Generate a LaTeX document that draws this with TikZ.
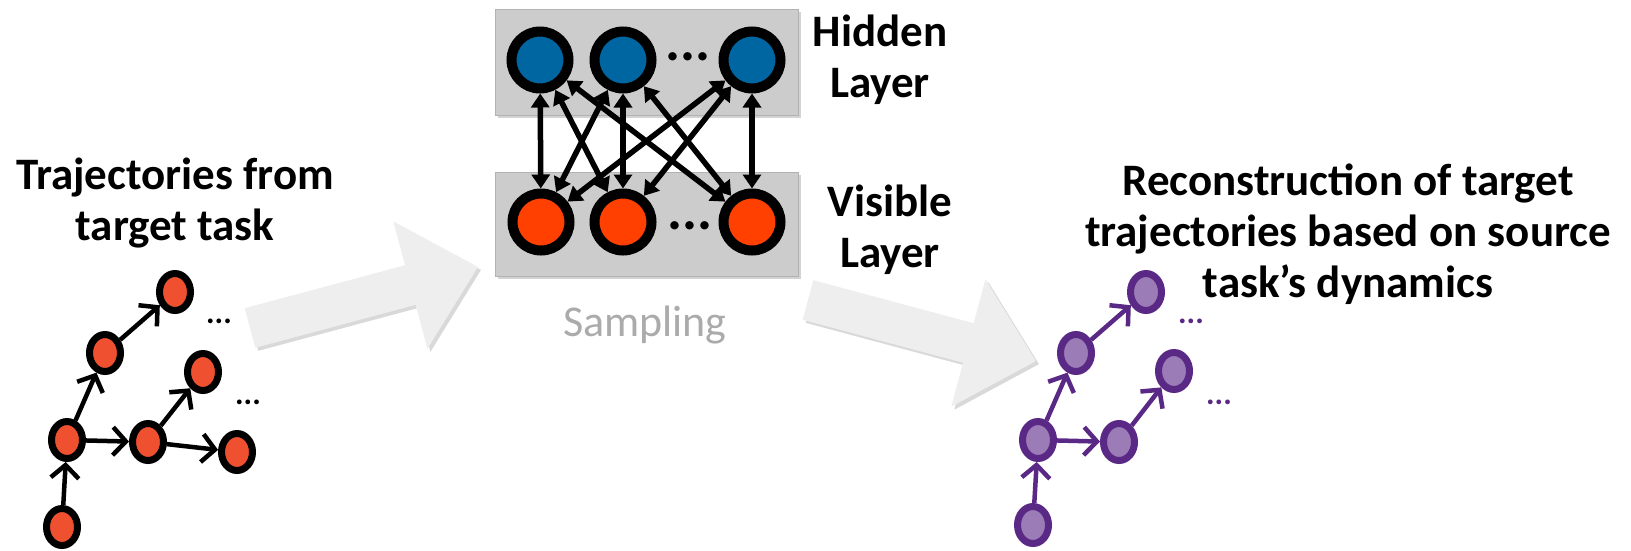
\documentclass[tikz,border=0pt]{standalone}
\usepackage{fontspec}
\setmainfont{Carlito}
\usetikzlibrary{arrows.meta,shapes.geometric,shadows}

\definecolor{hidblue}{HTML}{0066A1}
\definecolor{visred}{HTML}{FF4000}
\definecolor{trajred}{HTML}{EE5030}
\definecolor{recfill}{HTML}{9B7CB6}
\definecolor{recline}{HTML}{5A2885}
\definecolor{boxgray}{HTML}{CCCCCC}
\definecolor{flowgray}{HTML}{EEEEEE}

\tikzset{
  unit/.style={circle, draw=black, line width=10pt, minimum size=57pt, inner sep=0pt},
  hid/.style={unit, fill=hidblue},
  vis/.style={unit, fill=visred},
  link/.style={{Triangle[length=14pt,width=18pt]}-{Triangle[length=14pt,width=18pt]}, line width=5.5pt},
  layerbox/.style={fill=boxgray, draw=black!30, line width=1pt,
    drop shadow={shadow xshift=3pt, shadow yshift=-3pt, opacity=0.35}},
  state/.style={ellipse, draw=black, line width=7pt, fill=trajred,
    minimum width=31pt, minimum height=37pt, inner sep=0pt},
  recstate/.style={state, draw=recline, fill=recfill},
  move/.style={-{Straight Barb[length=13pt,width=28pt]}, line width=4.5pt},
  textblock/.style={font=\fontsize{45}{51}\selectfont\bfseries, align=center},
  flow/.style={fill=flowgray,
    drop shadow={shadow xshift=3pt, shadow yshift=-3pt, opacity=0.3}},
  etc/.style={font=\fontsize{32}{32}\selectfont\bfseries, inner sep=0pt}
}

\begin{document}
\begin{tikzpicture}[x=1pt,y=-1pt]
    \useasboundingbox (0,0) rectangle (1631,550);
    %%%%%%%%%%%%%%%%%%%%%%%%%%%%%%%%%%
    % big arrows
    \fill[flow,shift={(250,328)},rotate=15] (0,-20.5) -- (166,-20.5) -- (166,-66)
        -- (236,0) -- (166,66) -- (166,20.5) -- (0,20.5) -- cycle;
    \fill[flow,shift={(808,300)},rotate=-15] (0,-20.5) -- (166,-20.5) -- (166,-66)
        -- (236,0) -- (166,66) -- (166,20.5) -- (0,20.5) -- cycle;
    %%%%%%%%%%%%%%%%%%%%%%%%%%%%%%%%%%
    % layers
    \draw[layerbox] (495,9) rectangle (798,115); % hidden
    \draw[layerbox] (495,172) rectangle (798,276); % visible
    \node[hid] (h1) at (540,60) {};
    \node[hid] (h2) at (623,60) {};
    \node[hid] (h3) at (752,60) {};
    \node[vis] (v1) at (541,222) {};
    \node[vis] (v2) at (623,222) {};
    \node[vis] (v3) at (752,222) {};
    \node[font=\fontsize{56}{56}\selectfont\bfseries, inner sep=0pt] (hdots) at (688,57) {...};
    \node[font=\fontsize{56}{56}\selectfont\bfseries, inner sep=0pt] (vdots) at (690,226) {...};
    %%%%%%%%%%%%%%%%%%%%%%%%%%%%%%%%%%
    \draw[link] (h1) -- (v1);
    \draw[link] (h1) -- (v2);
    \draw[link] (h1) -- (v3);
    \draw[link] (h2) -- (v1);
    \draw[link] (h2) -- (v2);
    \draw[link] (h2) -- (v3);
    \draw[link] (h3) -- (v1);
    \draw[link] (h3) -- (v2);
    \draw[link] (h3) -- (v3);
    %%%%%%%%%%%%%%%%%%%%%%%%%%%%%%%%%%
    % target trajectories
    \node[state] (a) at (62,527) {};
    \node[state] (b) at (67,440) {};
    \node[state] (c) at (105,353) {};
    \node[state] (d) at (175,292) {};
    \node[state] (e) at (148,442) {};
    \node[state] (f) at (203,372) {};
    \node[state] (g) at (237,452) {};
    \node[etc] (ddots) at (219,321) {...};
    \node[etc] (fdots) at (248,402) {...};
    \draw[move] (a) -- (b);
    \draw[move] (b) -- (c);
    \draw[move] (c) -- (d);
    \draw[move] (b) -- (e);
    \draw[move] (e) -- (f);
    \draw[move] (e) -- (g);
    %%%%%%%%%%%%%%%%%%%%%%%%%%%%%%%%%%
    % reconstructed trajectories
    \node[recstate] (ra) at (1033,525) {};
    \node[recstate] (rb) at (1038,440) {};
    \node[recstate] (rc) at (1076,353) {};
    \node[recstate] (rd) at (1146,292) {};
    \node[recstate] (re) at (1119,442) {};
    \node[recstate] (rf) at (1174,371) {};
    \node[etc,text=recline] (rddots) at (1191,321) {...};
    \node[etc,text=recline] (rfdots) at (1219,402) {...};
    \draw[move,recline] (ra) -- (rb);
    \draw[move,recline] (rb) -- (rc);
    \draw[move,recline] (rc) -- (rd);
    \draw[move,recline] (rb) -- (re);
    \draw[move,recline] (re) -- (rf);
    %%%%%%%%%%%%%%%%%%%%%%%%%%%%%%%%%%
    % texts
    \node[textblock] (src) at (175,203) {Trajectories from\\target task};
    \node[textblock] (hidtxt) at (880,60) {Hidden\\Layer};
    \node[textblock] (vistxt) at (890,230) {Visible\\Layer};
    \node[textblock] (rectxt) at (1348,234) {Reconstruction of target\\trajectories based on source\\task’s dynamics};
    \node[font=\fontsize{44}{51}\selectfont, text=black!33] (samp) at (645,325) {Sampling};
\end{tikzpicture}
\end{document}
